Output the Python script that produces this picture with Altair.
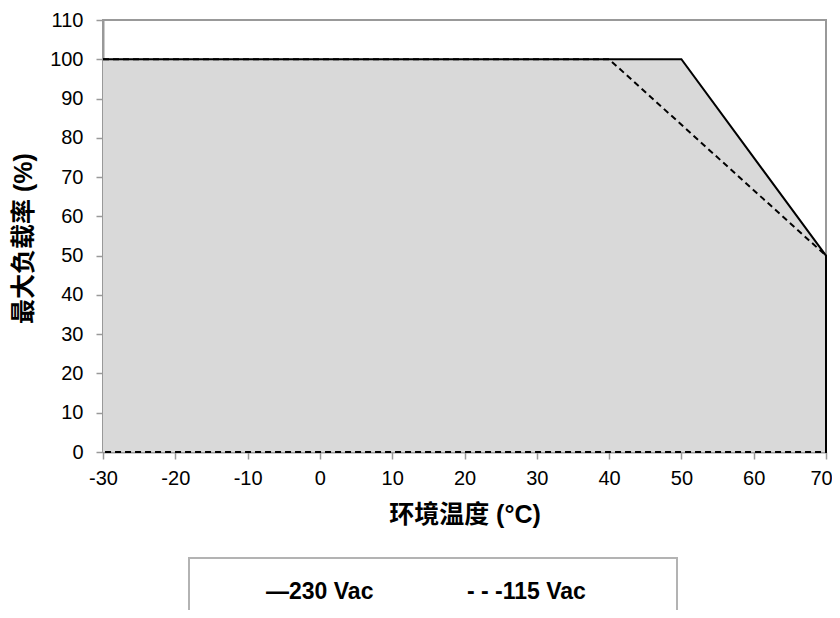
import altair as alt
import pandas as pd

# ---- data ----
temps_230 = [-30, 50, 70, 70]
loads_230 = [100, 100, 50, 0]
temps_115 = [-30, 40, 70, 70, -30]
loads_115 = [100, 100, 50, 0, 0]
fill_temps = [-30, 50, 70]
fill_loads = [100, 100, 50]
legend_labels = ["—230 Vac", "- - -115 Vac"]
x_ticks = [-30, -20, -10, 0, 10, 20, 30, 40, 50, 60, 70]
y_ticks = [0, 10, 20, 30, 40, 50, 60, 70, 80, 90, 100, 110]
x_title = "环境温度 (°C)"
y_title = "最大负载率 (%)"

df230 = pd.DataFrame({"temp": temps_230, "load": loads_230, "idx": list(range(len(temps_230)))})
df115 = pd.DataFrame({"temp": temps_115, "load": loads_115, "idx": list(range(len(temps_115)))})
dffill = pd.DataFrame({"temp": fill_temps, "load": fill_loads})
dummy = pd.DataFrame({"k": [0]})

GRAY = "#999999"
LATIN = "Liberation Sans"
TITLE_FONT = "Liberation Sans, Noto Sans CJK SC"

x_enc = alt.X(
    "temp:Q",
    scale=alt.Scale(domain=[-30, 70], nice=False, zero=False),
    axis=alt.Axis(
        values=x_ticks, title=x_title, grid=False,
        domainColor=GRAY, domainWidth=2, tickColor=GRAY, tickWidth=1.5, tickSize=7,
        labelFont=LATIN, labelFontSize=20, labelColor="black", labelPadding=9,
        labelFlush=False, labelOverlap=False, labelExpr="datum.value + ''",
        labelOffset={"condition": {"test": "datum.value === 70", "value": -5}, "value": 0},
        titleFont=TITLE_FONT, titleFontSize=25, titleFontWeight="bold", titleColor="black",
        titleY=62, titleBaseline="middle",
    ),
)
y_enc = alt.Y(
    "load:Q",
    scale=alt.Scale(domain=[0, 110], nice=False),
    axis=alt.Axis(
        values=y_ticks, title=y_title, grid=False,
        domainColor=GRAY, domainWidth=2, tickColor=GRAY, tickWidth=1.5, tickSize=7,
        labelFont=LATIN, labelFontSize=20, labelColor="black", labelPadding=13,
        labelFlush=False, labelOverlap=False, labelExpr="datum.value + ''",
        titleFont=TITLE_FONT, titleFontSize=25, titleFontWeight="bold", titleColor="black",
        titleAngle=270, titleX=-80, titleY=218, titleBaseline="middle", titleAlign="center",
    ),
)

area = alt.Chart(dffill).mark_area(color="#d9d9d9", opacity=1).encode(x=x_enc, y=y_enc)
line230 = alt.Chart(df230).mark_line(color="black", strokeWidth=2).encode(
    x=x_enc, y=y_enc, order="idx:Q"
)
line115 = alt.Chart(df115).mark_line(color="black", strokeWidth=2, strokeDash=[6, 4]).encode(
    x=x_enc, y=y_enc, order="idx:Q"
)

legend_box = alt.Chart(dummy).mark_rect(fill=None, stroke="#b3b3b3", strokeWidth=2).encode(
    x=alt.value(86), x2=alt.value(574), y=alt.value(538), y2=alt.value(640)
)
leg1 = alt.Chart(dummy).mark_text(
    font=LATIN, fontSize=23, fontWeight="bold", align="left", baseline="middle", color="black"
).encode(x=alt.value(163), y=alt.value(572), text=alt.value(legend_labels[0]))
leg2 = alt.Chart(dummy).mark_text(
    font=LATIN, fontSize=23, fontWeight="bold", align="left", baseline="middle", color="black"
).encode(x=alt.value(364), y=alt.value(572), text=alt.value(legend_labels[1]))

chart = (
    alt.layer(area, line230, line115, legend_box, leg1, leg2)
    .properties(
        width=723, height=432, autosize="none",
        padding={"left": 95, "top": 12, "right": 6, "bottom": 158},
        background="white",
    )
    .configure_view(stroke=GRAY, strokeWidth=2)
)

chart.save("out.html", embed_options={"renderer": "svg", "actions": False})
